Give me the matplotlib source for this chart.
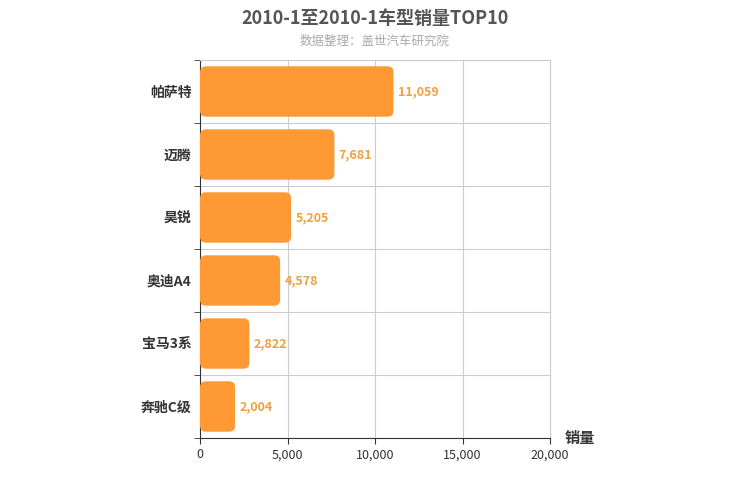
import matplotlib
matplotlib.use("Agg")
import matplotlib.pyplot as plt
from matplotlib.patches import FancyBboxPatch

plt.rcParams['font.family'] = ['Noto Sans CJK SC']

categories = ["帕萨特", "迈腾", "昊锐", "奥迪A4", "宝马3系", "奔驰C级"]
values = [11059, 7681, 5205, 4578, 2822, 2004]
xticks = [0, 5000, 10000, 15000, 20000]

fig = plt.figure(figsize=(7.5, 5), dpi=100)
ax = fig.add_axes([200/750, 62/500, 350/750, 378/500])
n = len(categories)
ax.set_xlim(0, 20000)
ax.set_ylim(n, 0)
color = "#FF9933"
xpp = 20000/350; ypp = n/378
for i, v in enumerate(values):
    y0 = i + 0.1
    p = FancyBboxPatch((0, y0), v, 0.8, boxstyle="round,pad=0,rounding_size=%f" % (6*xpp),
                       mutation_aspect=ypp/xpp, facecolor=color, edgecolor="none", zorder=3)
    ax.add_patch(p)
    ax.text(v + 250, i + 0.5, f"{v:,}", va="center", ha="left", color="#F0A040",
            fontsize=9, fontweight="bold", zorder=4)
ax.set_xticks(xticks)
ax.set_xticklabels([f"{t:,}" for t in xticks], fontsize=9, color="#333")
ax.set_yticks([i + 0.5 for i in range(n)])
ax.set_yticklabels(categories, fontsize=10, fontweight="bold", color="#333")
ax.set_yticks(range(n + 1), minor=True)
ax.tick_params(axis="y", which="major", length=0, pad=6)
ax.tick_params(axis="y", which="minor", length=4, color="#333")
ax.tick_params(axis="x", length=4, color="#333")
ax.grid(True, axis="x", color="#ccc", lw=0.8, zorder=0)
ax.grid(True, axis="y", which="minor", color="#ccc", lw=0.8, zorder=0)
for s in ["top", "right"]:
    ax.spines[s].set_color("#ccc")
ax.spines["left"].set_color("#333")
ax.spines["bottom"].set_color("#333")
fig.text(0.5, 1 - 18/500, "2010-1至2010-1车型销量TOP10", ha="center", va="center",
         fontsize=13, fontweight="bold", color="#555")
fig.text(0.5, 1 - 41/500, "数据整理：盖世汽车研究院", ha="center", va="center",
         fontsize=9, color="#aaa")
fig.text(565/750, 1 - 438/500, "销量", ha="left", va="center", fontsize=11,
         fontweight="bold", color="#333")
fig.savefig("out.png", dpi=100)
